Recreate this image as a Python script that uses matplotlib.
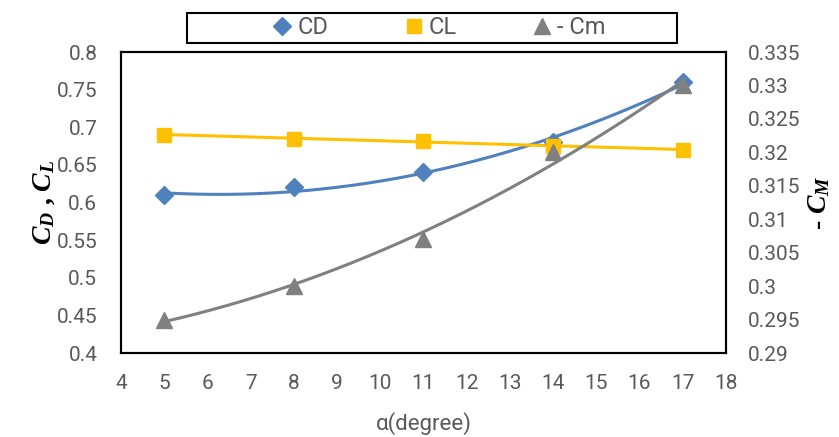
import numpy as np
import matplotlib
matplotlib.use('Agg')
import matplotlib.pyplot as plt
from matplotlib.lines import Line2D
from matplotlib.patches import Rectangle

# フォント設定
plt.rcParams['font.family'] = ['Roboto', 'DejaVu Sans']
plt.rcParams['mathtext.fontset'] = 'custom'
plt.rcParams['mathtext.it'] = 'Liberation Serif:italic:bold'
plt.rcParams['mathtext.rm'] = 'Liberation Serif:bold'

# データ
alpha = [5, 8, 11, 14, 17]
cd = [0.61, 0.62, 0.64, 0.68, 0.76]
cl = [0.69, 0.685, 0.682, 0.675, 0.67]
cm = [0.295, 0.300, 0.307, 0.320, 0.330]

c_cd = '#4F81BD'
c_cl = '#FFC000'
c_cm = '#808080'
tick_c = '#595959'

fig = plt.figure(figsize=(8.39, 4.37), dpi=100)
ax = fig.add_axes([0.1442, 0.1922, 0.7211, 0.6888])
ax2 = ax.twinx()

xs = np.linspace(min(alpha), max(alpha), 200)

# 近似曲線（2次 / 1次）
p_cd = np.polyfit(alpha, cd, 2)
p_cl = np.polyfit(alpha, cl, 1)
p_cm = np.polyfit(alpha, cm, 2)

ax.plot(xs, np.polyval(p_cd, xs), color=c_cd, lw=2.2, zorder=2)
ax.plot(xs, np.polyval(p_cl, xs), color=c_cl, lw=2.2, zorder=2)
ax.plot(alpha, cd, linestyle='none', marker='D', ms=9, color=c_cd, zorder=3)
ax.plot(alpha, cl, linestyle='none', marker='s', ms=10, color=c_cl, zorder=3)

ax2.plot(xs, np.polyval(p_cm, xs), color=c_cm, lw=2.2, zorder=2)
ax2.plot(alpha, cm, linestyle='none', marker='^', ms=11, color=c_cm, zorder=3)

ax.set_xlim(4, 18)
ax.set_ylim(0.4, 0.8)
ax2.set_ylim(0.29, 0.335)
ax.set_xticks(range(4, 19))
ax.set_yticks(np.arange(0.4, 0.801, 0.05))
ax2.set_yticks(np.arange(0.29, 0.3351, 0.005))
ax.set_yticklabels(['0.4', '0.45', '0.5', '0.55', '0.6', '0.65', '0.7', '0.75', '0.8'])
ax2.set_yticklabels(['0.29', '0.295', '0.3', '0.305', '0.31', '0.315', '0.32',
                     '0.325', '0.33', '0.335'])

for a in (ax, ax2):
    a.tick_params(length=0, labelsize=15, labelcolor=tick_c)
    for s in a.spines.values():
        s.set_linewidth(1.5)
        s.set_color('black')
ax.tick_params(axis='x', pad=15)
ax.tick_params(axis='y', pad=17)
ax2.tick_params(axis='y', pad=16)

ax.set_xlabel('α(degree)', fontsize=16, color=tick_c, labelpad=14)
ax.set_ylabel(r'$C_D$ , $C_L$', fontsize=20, labelpad=0,
              fontfamily='Liberation Serif', fontweight='bold')
ax2.set_ylabel(r'- $C_M$', fontsize=20, rotation=90, labelpad=4,
               fontfamily='Liberation Serif', fontweight='bold')

handles = [
    Line2D([], [], linestyle='none', marker='D', ms=9, color=c_cd),
    Line2D([], [], linestyle='none', marker='s', ms=10, color=c_cl),
    Line2D([], [], linestyle='none', marker='^', ms=11, color=c_cm),
]
fig.patches.append(Rectangle((187 / 839, 1 - 43 / 437), 490 / 839, 30 / 437,
                             transform=fig.transFigure, fill=False,
                             edgecolor='black', linewidth=1.5))
leg = fig.legend(handles, ['CD', 'CL', '- Cm'], ncol=3, loc='center',
                 bbox_to_anchor=(437 / 839, 1 - 28 / 437),
                 fontsize=17, frameon=False,
                 handletextpad=0.05, columnspacing=3.0,
                 handlelength=1.2)
for t in leg.get_texts():
    t.set_color(tick_c)

fig.savefig('out.png', dpi=100)
